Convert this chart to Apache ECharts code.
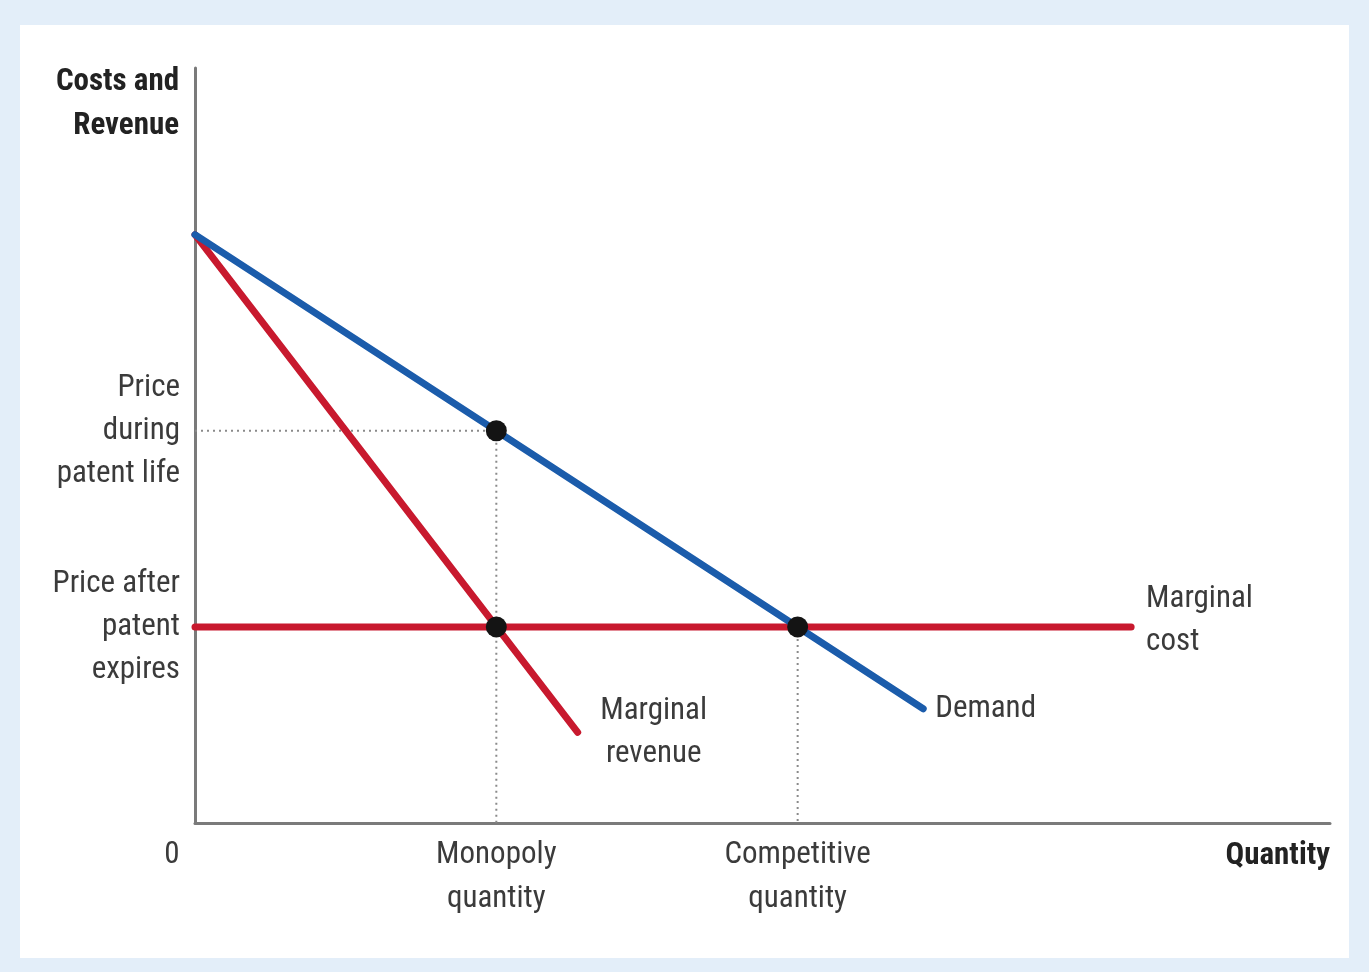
<!DOCTYPE html>
<html>
<head>
<meta charset="UTF-8"/>
<title>Patent monopoly</title>
<script src="https://cdn.jsdelivr.net/npm/echarts@6/dist/echarts.min.js"></script>
<style>
html, body { margin:0; padding:0; background:#e3eef9; }
#chart { position:absolute; left:20px; top:25px; width:1329px; height:933px; background:#fff; }
</style>
</head>
<body>
<div id="chart"></div>
<script>
// curve data (quantity, price)
var demand = [[0, 12], [7.25, 2.33]];
var marginalRevenue = [[0, 12], [3.81, 1.85]];
var marginalCost = [[0, 4], [9.32, 4]];
var equilibria = [[3, 8], [3, 4], [6, 4]];
var guideLines = [
  [[0, 8], [3, 8]],
  [[3, 8], [3, 0]],
  [[6, 4], [6, 0]]
];
var xTicks = [0, 3, 6];
var xTickLabels = ['0', 'Monopoly\nquantity', 'Competitive\nquantity'];
var yTicks = [8, 4];
var yTickLabels = ['Price\nduring\npatent life', 'Price after\npatent\nexpires'];

var FONT = '"Roboto Condensed", "DejaVu Sans Condensed", sans-serif';
var FS = 31;
var BLUE = '#1b5cab', RED = '#c8192e', TXT = '#3b3b3b';

var chart = echarts.init(document.getElementById('chart'));

var series = [];
guideLines.forEach(function (seg) {
  series.push({
    type: 'line', data: seg, symbol: 'none', silent: true, z: 1,
    lineStyle: { color: '#8a8a8a', width: 2, type: [2, 4] }
  });
});
series.push({
  name: 'Demand', type: 'line', data: demand, symbol: 'none', z: 3,
  lineStyle: { color: BLUE, width: 7, cap: 'round' },
  endLabel: { show: true, formatter: 'Demand', distance: 12, color: TXT,
    fontFamily: FONT, fontSize: FS }
});
series.push({
  name: 'Marginal revenue', type: 'line', data: marginalRevenue, symbol: 'none', z: 2,
  lineStyle: { color: RED, width: 7, cap: 'round' },
  endLabel: { show: true, formatter: 'Marginal\nrevenue', distance: 22, color: TXT,
    fontFamily: FONT, fontSize: FS, lineHeight: 43, align: 'center', offset: [54, 0] }
});
series.push({
  name: 'Marginal cost', type: 'line', data: marginalCost, symbol: 'none', z: 2,
  lineStyle: { color: RED, width: 7, cap: 'round' },
  endLabel: { show: true, formatter: 'Marginal\ncost', distance: 15, color: TXT,
    fontFamily: FONT, fontSize: FS, lineHeight: 43, offset: [0, -6] }
});
series.push({
  type: 'scatter', data: equilibria, symbolSize: 21, z: 5,
  itemStyle: { color: '#141414', opacity: 1 }
});

chart.setOption({
  animation: false,
  grid: { left: 175, top: 43, right: 19, bottom: 135 },
  xAxis: {
    type: 'value', min: 0, max: 11.3,
    name: 'Quantity', nameLocation: 'end', nameGap: 0,
    nameTextStyle: { fontFamily: FONT, fontSize: FS, fontWeight: 'bold', color: '#222',
      align: 'right', verticalAlign: 'top', padding: [18, 0, 0, 0] },
    axisLine: { show: true, lineStyle: { color: '#7a7a7a', width: 3 } },
    axisTick: { show: false },
    splitLine: { show: false },
    axisLabel: {
      customValues: xTicks, margin: 10,
      fontFamily: FONT, fontSize: FS, lineHeight: 44, color: TXT,
      formatter: function (v) {
        var i = xTicks.indexOf(v);
        if (i === 0) return '{z|0}';
        return i < 0 ? '' : xTickLabels[i];
      },
      rich: { z: { fontFamily: FONT, fontSize: FS, color: TXT, padding: [0, 46, 0, 0] } }
    }
  },
  yAxis: {
    type: 'value', min: 0, max: 15.4,
    name: 'Costs and\nRevenue', nameLocation: 'end', nameGap: 8,
    nameTextStyle: { fontFamily: FONT, fontSize: FS, fontWeight: 'bold', color: '#222',
      lineHeight: 44, align: 'right', verticalAlign: 'top', padding: [0, 16, 0, 0] },
    axisLine: { show: true, lineStyle: { color: '#7a7a7a', width: 3 } },
    axisTick: { show: false },
    splitLine: { show: false },
    axisLabel: {
      customValues: yTicks, margin: 15,
      fontFamily: FONT, fontSize: FS, lineHeight: 43, color: TXT, align: 'right',
      formatter: function (v) {
        var i = yTicks.indexOf(v);
        return i < 0 ? '' : yTickLabels[i];
      }
    }
  },
  series: series
});
</script>
</body>
</html>
